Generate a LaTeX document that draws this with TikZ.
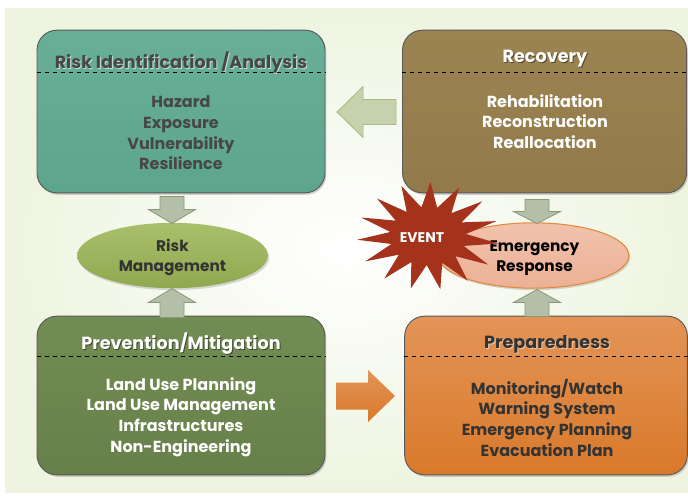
\documentclass[tikz,border=0pt]{standalone}
\usepackage{fontspec}
\setmainfont{Poppins}
\usetikzlibrary{shapes.geometric,shadows}

\definecolor{bgedge}{HTML}{EEF4E0}
\definecolor{tealtop}{HTML}{69AF98}
\definecolor{tealbot}{HTML}{5DA58D}
\definecolor{browntop}{HTML}{9C8352}
\definecolor{brownbot}{HTML}{937A4A}
\definecolor{olivetop}{HTML}{728D53}
\definecolor{olivebot}{HTML}{67804A}
\definecolor{orangetop}{HTML}{E39457}
\definecolor{orangebot}{HTML}{D9792A}
\definecolor{rmtop}{HTML}{A9C06A}
\definecolor{rmbot}{HTML}{8FA850}
\definecolor{ertop}{HTML}{F1C2AB}
\definecolor{erbot}{HTML}{EBB196}
\definecolor{erline}{HTML}{E2893C}
\definecolor{eventred}{HTML}{A5321A}
\definecolor{grayarrow}{HTML}{B4BFA7}
\definecolor{grayarrowline}{HTML}{889878}
\definecolor{greenarrow}{HTML}{C6D2AE}
\definecolor{greenarrowline}{HTML}{A7BC86}
\definecolor{darktext}{HTML}{474747}

\tikzset{
  box/.style={rounded corners=15pt, draw=black!65, line width=0.7pt,
    minimum width=#1, minimum height=122pt, inner sep=0pt,
    drop shadow={opacity=0.35, shadow xshift=1pt, shadow yshift=-1.5pt}},
  heading/.style={font=\bfseries\fontsize{13.2}{15}\selectfont, inner sep=0pt},
  items/.style={font=\bfseries\fontsize{12}{15.5}\selectfont, align=center, inner sep=0pt},
  sep/.style={dashed, line width=0.6pt, black},
  blob/.style={ellipse, minimum width=143pt, minimum height=49pt, inner sep=0pt,
    drop shadow={opacity=0.3, shadow xshift=1pt, shadow yshift=-1.5pt}},
  blobtext/.style={font=\bfseries\fontsize{11.5}{15}\selectfont, align=center, inner sep=0pt},
  grayblock/.style={fill=grayarrow, draw=grayarrowline, line width=0.6pt},
  % block arrow pointing along +x: length, head length, shaft half width, head half width
  pics/blockarrow/.style n args={4}{code={
    \path[pic actions] (-#1/2,-#3) -- (#1/2-#2,-#3) -- (#1/2-#2,-#4) -- (#1/2,0)
      -- (#1/2-#2,#4) -- (#1/2-#2,#3) -- (-#1/2,#3) -- cycle;
    \coordinate (-tip) at (#1/2,0);
    \coordinate (-tail) at (-#1/2,0);
  }}
}

\begin{document}
\begin{tikzpicture}[x=0.75pt,y=-0.75pt]
  % page and soft background
  \fill[white] (0,0) rectangle (688,500);
  \shade[inner color=white, outer color=bgedge] (5,8) rectangle (688,492);
  \useasboundingbox (0,0) rectangle (688,500);

  % four phase boxes
  \node[box=216pt, top color=tealtop, bottom color=tealbot] (rid) at (181,111.5) {};
  \node[box=213pt, top color=browntop, bottom color=brownbot] (rec) at (544.5,111.5) {};
  \node[box=216pt, minimum height=119pt, top color=olivetop, bottom color=olivebot] (prev) at (181,395.5) {};
  \node[box=212pt, minimum height=119pt, top color=orangetop, bottom color=orangebot] (prep) at (546,395.5) {};

  % headings with their shadows
  \node[heading, text=white, opacity=0.6] at (182,63) {Risk Identification /Analysis};
  \node[heading, text=darktext] (ridT) at (181,62) {Risk Identification /Analysis};
  \node[heading, text=black, opacity=0.45] at (546,59.5) {Recovery};
  \node[heading, text=white] (recT) at (545,58.5) {Recovery};
  \node[heading, text=black, opacity=0.45] at (182,344.5) {Prevention/Mitigation};
  \node[heading, text=white] (prevT) at (181,343.5) {Prevention/Mitigation};
  \node[heading, text=white, opacity=0.5] at (548,345.5) {Preparedness};
  \node[heading, text=black!80] (prepT) at (547,344.5) {Preparedness};

  % dashed separators
  \draw[sep] (rid.west |- 0,72) -- (rid.east |- 0,72);
  \draw[sep] (rec.west |- 0,72) -- (rec.east |- 0,72);
  \draw[sep] (prev.west |- 0,356) -- (prev.east |- 0,356);
  \draw[sep] (prep.west |- 0,356) -- (prep.east |- 0,356);

  % item lists
  \node[items, text=darktext] (ridI) at (181,133) {Hazard\\Exposure\\Vulnerability\\Resilience};
  \node[items, text=white] (recI) at (545,121.5) {Rehabilitation\\Reconstruction\\Reallocation};
  \node[items, text=white] (prevI) at (181,417) {Land Use Planning\\Land Use Management\\Infrastructures\\Non-Engineering};
  \node[items, text=black!80] (prepI) at (547,417.5) {Monitoring/Watch\\Warning System\\Emergency Planning\\Evacuation Plan};

  % central ellipses
  \node[blob, top color=rmtop, bottom color=rmbot] (rm) at (172.5,255.5) {};
  \node[blobtext, text=black!80] at (172.5,257) {Risk\\Management};
  \node[blob, top color=ertop, bottom color=erbot, draw=erline, line width=0.8pt] (er) at (533.5,255.5) {};
  \node[blobtext, text=black] at (534.5,258) {Emergency\\Response};

  % the triggering event
  \fill[eventred]
    plot[samples at={0,...,29}, variable=\k]
      ({428 + (mod(\k,2)==0 ? 71 : 38)*cos(\k*12+8)},
       {236 + (mod(\k,2)==0 ? 54 : 29)*sin(\k*12+8)}) -- cycle;
  \node[font=\bfseries\fontsize{10.5}{12}\selectfont, text=white, inner sep=0pt] (ev) at (422,238) {EVENT};

  % block arrows between the phases
  \pic[grayblock, rotate=-90] (a1) at (172,210) {blockarrow={27}{14}{12}{23.5}};
  \pic[grayblock, rotate=90] (a2) at (172,303) {blockarrow={29}{14}{12}{23.5}};
  \pic[grayblock, rotate=-90] (a3) at (537,211.5) {blockarrow={24}{12}{12}{23.5}};
  \pic[grayblock, rotate=90] (a4) at (537,303) {blockarrow={27}{13}{12}{23.5}};
  \pic[fill=greenarrow, draw=greenarrowline, line width=0.6pt, rotate=180] (a5) at (366.5,112) {blockarrow={59}{26}{12.5}{25.5}};
  \pic[top color=orangetop, bottom color=orangebot, shading angle=0] (a6) at (365.5,396) {blockarrow={59}{27}{13.5}{26}};
\end{tikzpicture}
\end{document}
